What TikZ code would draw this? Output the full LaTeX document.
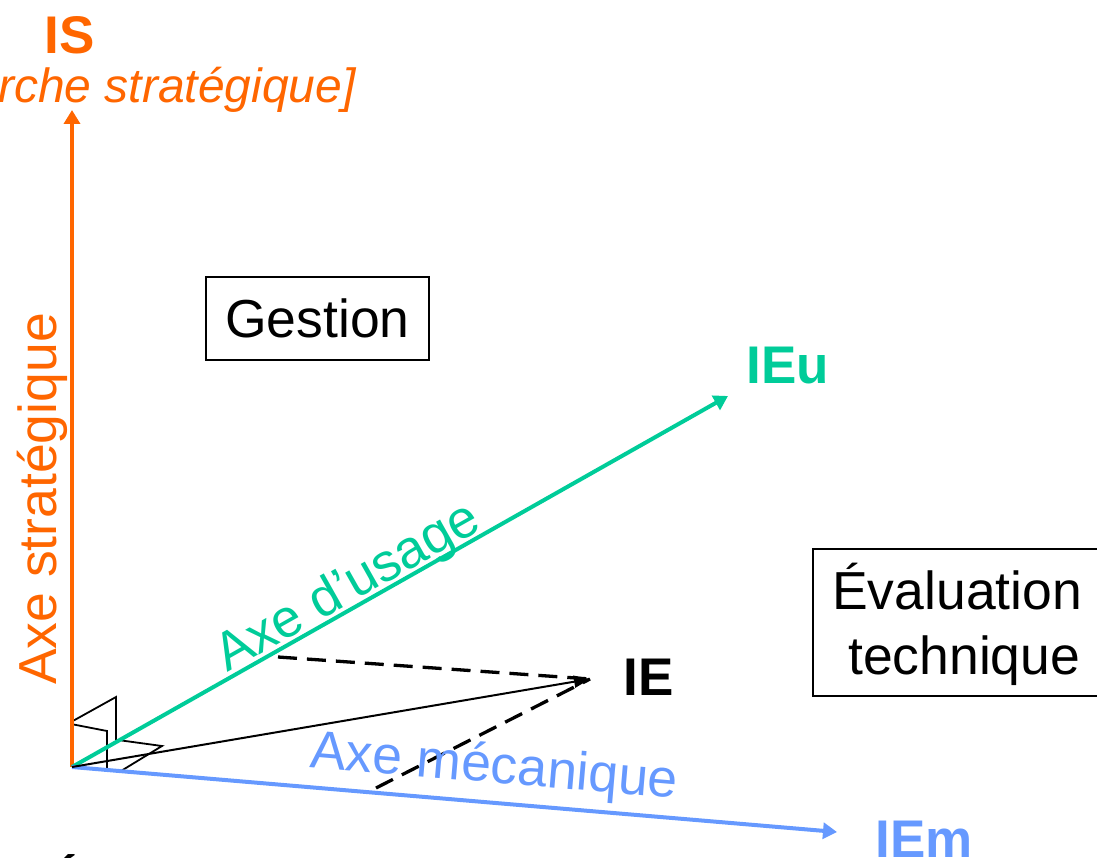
\documentclass[tikz,border=0pt]{standalone}
\usepackage{fontspec}
\setmainfont{Liberation Sans}
\usetikzlibrary{arrows.meta}
\definecolor{orangeS}{HTML}{FF6600}
\definecolor{greenU}{HTML}{00CC99}
\definecolor{blueM}{HTML}{6699FF}
\begin{document}
\begin{tikzpicture}[x=1pt,y=-1pt,
  big/.style={font=\fontsize{53.5}{62}\selectfont, inner sep=0pt},
  bigb/.style={font=\fontsize{53}{62}\selectfont\bfseries, inner sep=0pt},
  axisline/.style={line width=4pt, -{Triangle[length=14pt,width=16pt]}},
  marker/.style={line width=1.8pt, black, line join=miter},
  proj/.style={line width=3.3pt, dash pattern=on 19pt off 10pt},
  box/.style={draw, line width=1.5pt, inner sep=0pt}
]
\useasboundingbox (0,0) rectangle (1097,858);
\coordinate (O) at (72,767);
\coordinate (Stip) at (72,110);
\coordinate (Utip) at (728,396);
\coordinate (Mtip) at (837,832);
\coordinate (IEpt) at (590,679);
\coordinate (pU) at (278,657);
\coordinate (pM) at (376,788);

% right-angle markers
\draw[marker] (71,722) -- (116,697) -- (116,742);
\draw[marker] (71,724) -- (107,731) -- (107,769);
\draw[marker] (118,740) -- (162,746) -- (121,771);

% axes
\draw[axisline, orangeS] (O) -- (Stip);
\draw[axisline, greenU] (O) -- (Utip);
\draw[axisline, blueM] (O) -- (Mtip);

% vector and projections
\draw[line width=2pt, -{Triangle[length=16pt,width=12pt]}] (O) -- (IEpt);
\draw[proj] (pU) -- (IEpt);
\draw[proj] (pM) -- (IEpt);

% labels
\node[bigb, orangeS, anchor=base] (IS) at (70,54) {IS};
\node[font=\fontsize{48}{56}\selectfont\itshape, orangeS, anchor=base east, inner sep=0pt] (ISsub) at (356,103) {rche stratégique]};
\node[big, orangeS, rotate=90, anchor=base] (axS) at (56,499) {Axe stratégique};

\node[box, minimum width=223pt, minimum height=83pt, big] (gest) at (317.5,318.5) {Gestion};

\node[bigb, greenU, anchor=base] (IEu) at (788,383) {IEu};
\node[big, greenU, rotate=29.4, anchor=base west] (axU) at (227,673) {Axe d’usage};

\node[bigb, anchor=base] (IE) at (648.5,695) {IE};
\node[big, blueM, rotate=-4.86, anchor=base west] (axM) at (309,767) {Axe mécanique};
\node[bigb, blueM, anchor=base] (IEm) at (924.5,857) {IEm};

\node[box, anchor=north west, minimum width=300pt, minimum height=147pt] (evalbox) at (812,548) {};
\node[big, anchor=base west] (ev1) at (832,609) {Évaluation};
\node[big, anchor=base west] (ev2) at (848,674) {technique};

\node[bigb, anchor=base west] (Ebot) at (48,901) {É};
\end{tikzpicture}
\end{document}
